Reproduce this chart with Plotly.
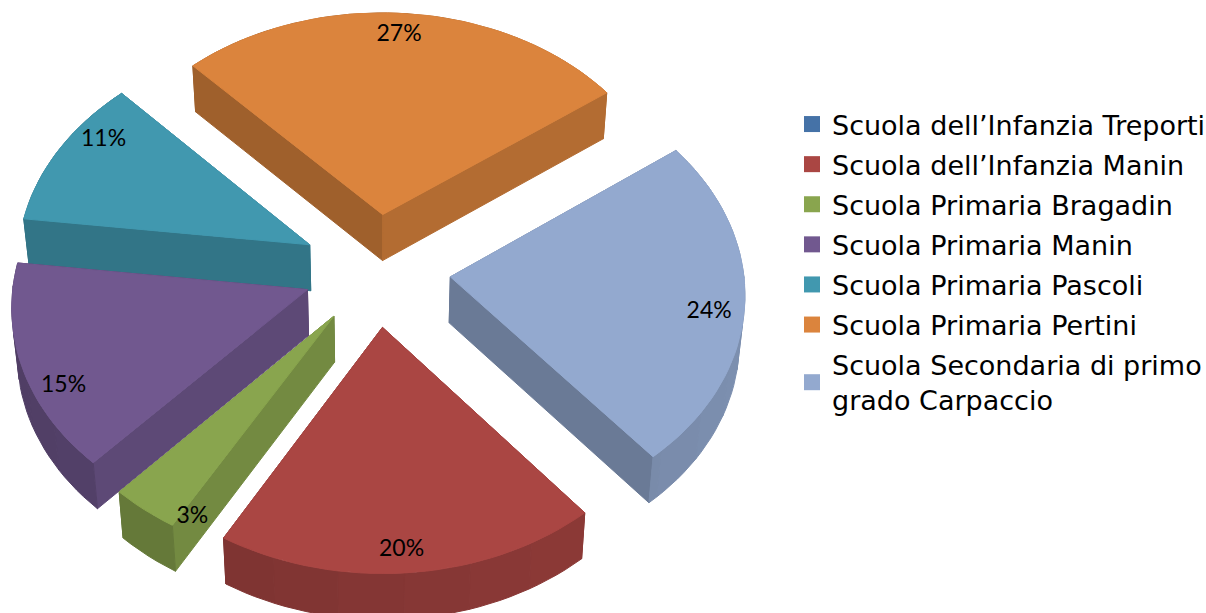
import math
import plotly.graph_objects as go

categories = ["Scuola dell’Infanzia Treporti", "Scuola dell’Infanzia Manin", "Scuola Primaria Bragadin",
              "Scuola Primaria Manin", "Scuola Primaria Pascoli", "Scuola Primaria Pertini",
              "Scuola Secondaria di primo<br>grado Carpaccio"]
values = [0, 19.5, 3.5, 15, 11, 27.05, 23.9]
value_labels = ["0%", "20%", "3%", "15%", "11%", "27%", "24%"]
colors = ["#4572A7", "#AA4643", "#89A54E", "#71588F", "#4198AF", "#DB843D", "#93A9CF"]
draw_order = [5, 4, 6, 3, 2, 1]

W, H = 1206, 613
CX, CY, A, B, K, EXPLODE, DEPTH, START = 376, 270, 293, 222, 0.066, 0.255, 46, 140
LABEL_R = 0.88
LABEL_NUDGE = {5: (-5, -1), 6: (0, 11), 1: (-5, 9), 2: (27, 32), 3: (8, 27), 4: (15, -20)}
SLICE_SHIFT = {2: 3, 3: 2}


def project(X, Y):
    p = 1 / (1 + K * Y)
    return CX + A * X * p, CY - B * Y * p


def bottom(pt):
    return CX + (pt[0] - CX) * 0.985, pt[1] + DEPTH


def shade(hex_color, f):
    r, g, b = (int(hex_color[i:i + 2], 16) for i in (1, 3, 5))
    return f"rgb({int(r * f)},{int(g * f)},{int(b * f)})"


def factor(deg):
    return 0.78 + 0.07 * math.sin(math.radians(deg))


fig = go.Figure()


def poly(points, color, shift=0):
    xs = [p[0] + shift for p in points] + [points[0][0] + shift]
    ys = [p[1] for p in points] + [points[0][1]]
    fig.add_trace(go.Scatter(x=xs, y=ys, mode="lines", fill="toself", fillcolor=color,
                             line=dict(color=color, width=1), hoverinfo="skip", showlegend=False))


total = sum(values)
spans = {}
angle = START
for i, v in enumerate(values):
    spans[i] = (angle, angle + 360 * v / total)
    angle += 360 * v / total

labels = []
for i in draw_order:
    t0, t1 = spans[i]
    mid = math.radians((t0 + t1) / 2)
    shift = SLICE_SHIFT.get(i, 0)
    ex, ey = EXPLODE * math.sin(mid), EXPLODE * math.cos(mid)
    n = max(3, int((t1 - t0) / 2))
    ts = [t0 + (t1 - t0) * j / n for j in range(n + 1)]
    arc = [project(ex + math.sin(math.radians(t)), ey + math.cos(math.radians(t))) for t in ts]
    apex = project(ex, ey)
    radial = [([apex, arc[0], bottom(arc[0]), bottom(apex)], factor(t0 - 90)),
              ([apex, arc[-1], bottom(arc[-1]), bottom(apex)], factor(t1 + 90))]
    radial.sort(key=lambda w: sum(p[1] for p in w[0]) / len(w[0]))
    step = 6
    back, front = [], []
    for j in range(0, n, step):
        k = min(j + step, n)
        seg = arc[j:k + 1]
        tm = (ts[j] + ts[k]) / 2
        wall = (seg + [bottom(p) for p in reversed(seg)], factor(tm))
        (back if math.cos(math.radians(tm)) > 0 else front).append(wall)
    for pts, f in back + radial + front:
        poly(pts, shade(colors[i], f), shift)
    poly([apex] + arc, colors[i], shift)
    lx, ly = project(ex + LABEL_R * math.sin(mid), ey + LABEL_R * math.cos(mid))
    dx, dy = LABEL_NUDGE[i]
    labels.append(((lx + dx, ly + dy), value_labels[i]))

fig.add_trace(go.Scatter(x=[l[0][0] for l in labels], y=[l[0][1] for l in labels],
                         text=[l[1] for l in labels], mode="text",
                         textfont=dict(family="Lato", size=23, color="black"),
                         hoverinfo="skip", showlegend=False))

for i, (name, col) in enumerate(zip(categories, colors)):
    fig.add_trace(go.Scatter(x=[None], y=[None], mode="markers", name=name, legendgroup=str(i),
                             marker=dict(symbol="square", size=16, color=col)))

fig.update_layout(
    width=W, height=H, margin=dict(l=0, r=0, t=0, b=0, autoexpand=False),
    paper_bgcolor="white", plot_bgcolor="white",
    xaxis=dict(range=[0, W], visible=False, fixedrange=True),
    yaxis=dict(range=[H, 0], visible=False, fixedrange=True),
    legend=dict(x=792 / W, y=1 - 100 / H, xanchor="left", yanchor="top", tracegroupgap=2, itemwidth=30,
                font=dict(family="DejaVu Sans", size=27, color="black"), bgcolor="rgba(0,0,0,0)"),
)
fig.write_html("out.html", config=dict(displayModeBar=False),
               post_script="document.body.style.margin='0';document.body.style.overflow='hidden';")
